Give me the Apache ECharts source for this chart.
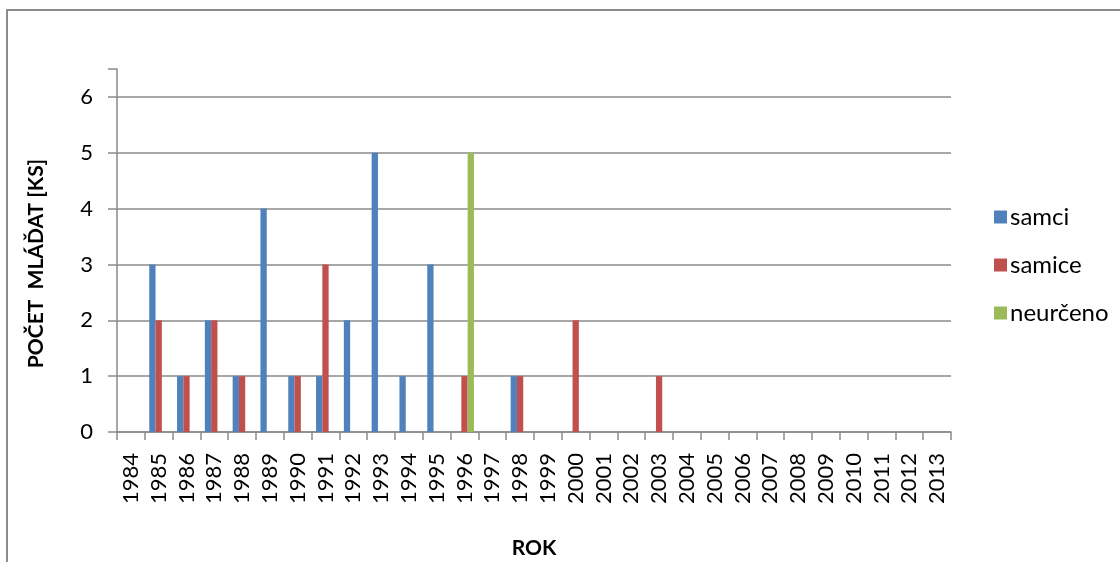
<!DOCTYPE html>
<html>
<head>
<meta charset="utf-8">
<script src="https://cdn.jsdelivr.net/npm/echarts@6/dist/echarts.min.js"></script>
<style>
  html, body { margin: 0; padding: 0; background: #fff; }
  #chart { width: 1120px; height: 562px; }
</style>
</head>
<body>
<div id="chart"></div>
<script>
// Years on the category axis
const years = [];
for (let y = 1984; y <= 2013; y++) years.push(String(y));

// Number of young per year (null = no bar)
const samci = [null, 3, 1, 2, 1, 4, 1, 1, 2, 5, 1, 3, null, null, 1, null, null, null, null, null,
               null, null, null, null, null, null, null, null, null, null];
const samice = [null, 2, 1, 2, 1, null, 1, 3, null, null, null, null, 1, null, 1, null, 2, null, null, 1,
                null, null, null, null, null, null, null, null, null, null];
const neurceno = [null, null, null, null, null, null, null, null, null, null, null, null, 5, null, null, null, null, null, null, null,
                  null, null, null, null, null, null, null, null, null, null];

const seriesNames = ['samci', 'samice', 'neurčeno'];
const seriesColors = ['#4F81BD', '#C0504D', '#9BBB59'];

const FONT = 'Lato, "Open Sans", sans-serif';
const GRID = '#8a8a8a';

const chart = echarts.init(document.getElementById('chart'), null, { renderer: 'canvas' });

chart.setOption({
  backgroundColor: '#ffffff',
  animation: false,
  textStyle: { fontFamily: FONT },
  graphic: [{
    type: 'rect',
    shape: { x: 7, y: 10, width: 1130, height: 570 },
    style: { fill: 'none', stroke: '#8c8c8c', lineWidth: 2 },
    silent: true
  }],
  legend: {
    orient: 'vertical',
    left: 989,
    top: 200,
    itemWidth: 13,
    itemHeight: 13,
    itemGap: 24,
    icon: 'rect',
    textStyle: { fontSize: 24, color: '#000', fontFamily: FONT, padding: [0, 0, 0, -2] },
    data: seriesNames
  },
  grid: { left: 117, right: 169, top: 69, bottom: 130, containLabel: false, outerBoundsMode: 'none' },
  xAxis: {
    type: 'category',
    data: years,
    name: 'ROK',
    nameLocation: 'middle',
    nameGap: 106,
    nameTextStyle: { fontSize: 21, fontWeight: 'bold', color: '#000', fontFamily: FONT },
    axisLine: { lineStyle: { color: GRID, width: 1.5 } },
    axisTick: { show: true, alignWithLabel: false, length: 8, lineStyle: { color: GRID, width: 1.5 } },
    axisLabel: {
      rotate: 90, fontSize: 22, color: '#000', margin: 21, interval: 0, fontFamily: FONT
    },
    splitLine: { show: false }
  },
  yAxis: {
    type: 'value',
    min: 0,
    max: 6.5,
    interval: 1,
    name: 'POČET  MLÁĎAT [KS]',
    nameLocation: 'middle',
    nameGap: 70,
    nameRotate: 90,
    nameTextStyle: { fontSize: 21, fontWeight: 'bold', color: '#000', fontFamily: FONT, padding: [0, 26, 0, 0] },
    axisLine: { show: true, lineStyle: { color: GRID, width: 1.5 } },
    axisTick: { show: true, inside: false, length: 9, lineStyle: { color: GRID, width: 1.5 } },
    axisLabel: {
      fontSize: 22, color: '#000', margin: 24, fontFamily: FONT,
      formatter: v => (Number.isInteger(v) ? String(v) : '')
    },
    splitLine: {
      show: true,
      lineStyle: { color: [GRID, GRID, GRID, GRID, GRID, GRID, GRID, 'rgba(0,0,0,0)'], width: 1.5 }
    }
  },
  series: [samci, samice, neurceno].map((d, i) => ({
    name: seriesNames[i],
    type: 'bar',
    data: d,
    barGap: '0%',
    barCategoryGap: '32%',
    itemStyle: { color: seriesColors[i] }
  }))
});
</script>
</body>
</html>
